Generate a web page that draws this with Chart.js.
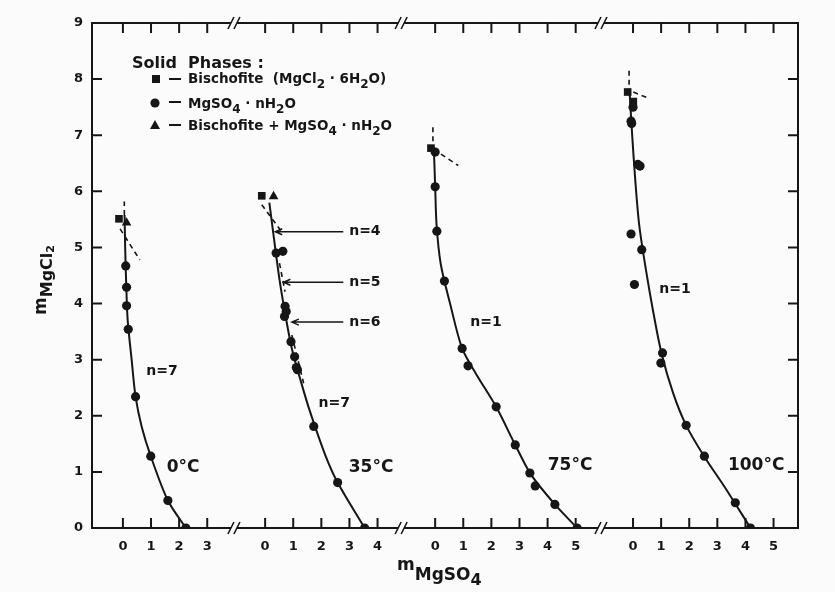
<!DOCTYPE html>
<html lang="en">
<head>
<meta charset="UTF-8">
<title>MgCl2 - MgSO4 - H2O isotherms</title>
<script src="https://cdn.jsdelivr.net/npm/chart.js"></script>
<style>
  html, body { margin: 0; padding: 0; background: #fbfbfb; }
  canvas { display: block; }
</style>
</head>
<body>
<canvas id="chart" width="835" height="592"></canvas>
<script>
// four isotherms share one broken x axis; each panel has its own zero
const temps = ["0°C", "35°C", "75°C", "100°C"];
const panelZero = [1.10, 6.16, 12.21, 19.25];
const axisBreaks = [5.05, 11.0, 18.11];
const panelTicks = [[0, 1, 2, 3], [0, 1, 2, 3, 4], [0, 1, 2, 3, 4, 5], [0, 1, 2, 3, 4, 5]];
const xMax = 25.12;

// 0 °C
const so4_0 = [0.10, 0.13, 0.13, 0.19, 0.45, 0.99, 1.60, 2.24];
const cl2_0 = [4.67, 4.29, 3.96, 3.54, 2.34, 1.28, 0.49, 0.00];
const bischX_0 = [-0.14], bischY_0 = [5.51];
const bothX_0 = [0.13], bothY_0 = [5.44];
const lineX_0 = [0.06, 0.08, 0.12, 0.17, 0.31, 0.45, 0.67, 0.99, 1.60, 2.24];
const lineY_0 = [5.58, 5.00, 4.30, 3.70, 3.00, 2.34, 1.80, 1.28, 0.49, 0.00];
const dash_0 = [[[0.05, 0.05], [5.58, 5.82]], [[-0.10, 0.60], [5.33, 4.78]]];

// 35 °C
const so4_35 = [0.39, 0.63, 0.71, 0.75, 0.69, 0.92, 1.05, 1.11, 1.15, 1.73, 2.58, 3.54];
const cl2_35 = [4.90, 4.93, 3.95, 3.86, 3.77, 3.32, 3.05, 2.86, 2.82, 1.81, 0.81, 0.00];
const bischX_35 = [-0.12], bischY_35 = [5.92];
const bothX_35 = [0.30], bothY_35 = [5.91];
const lineX_35 = [0.15, 0.33, 0.52, 0.72, 0.95, 1.28, 1.58, 2.14, 2.58, 3.54];
const lineY_35 = [5.80, 5.10, 4.40, 3.80, 3.20, 2.60, 2.10, 1.30, 0.81, 0.00];
const dash_35 = [[[-0.12, 0.63], [5.76, 5.25]], [[0.51, 0.71], [4.72, 4.21]], [[0.95, 1.37], [3.44, 2.58]]];

// 75 °C
const so4_75 = [0.00, 0.00, 0.06, 0.33, 0.96, 1.17, 2.17, 2.85, 3.37, 3.56, 4.26, 5.05];
const cl2_75 = [6.70, 6.08, 5.29, 4.40, 3.20, 2.89, 2.16, 1.48, 0.98, 0.75, 0.42, 0.00];
const bischX_75 = [-0.15], bischY_75 = [6.77];
const bothX_75 = [], bothY_75 = [];
const lineX_75 = [-0.05, 0.00, 0.05, 0.20, 0.53, 0.96, 1.45, 2.17, 2.85, 3.40, 4.26, 5.05];
const lineY_75 = [6.80, 6.10, 5.40, 4.70, 4.00, 3.20, 2.75, 2.16, 1.48, 0.96, 0.42, 0.00];
const dash_75 = [[[-0.08, -0.08], [7.14, 6.80]], [[-0.06, 0.82], [6.75, 6.46]]];

// 100 °C
const so4_100 = [0.00, -0.07, -0.05, 0.17, 0.25, -0.07, 0.31, 0.05, 1.05, 0.99, 1.89, 2.54, 3.64, 4.18];
const cl2_100 = [7.50, 7.25, 7.21, 6.48, 6.45, 5.24, 4.96, 4.34, 3.12, 2.94, 1.83, 1.28, 0.45, 0.00];
const bischX_100 = [-0.19, 0.01], bischY_100 = [7.77, 7.60];
const bothX_100 = [], bothY_100 = [];
const lineX_100 = [-0.12, -0.03, 0.08, 0.22, 0.46, 0.72, 1.02, 1.43, 1.89, 2.54, 3.30, 4.18];
const lineY_100 = [7.75, 7.00, 6.20, 5.40, 4.60, 3.85, 3.10, 2.40, 1.83, 1.27, 0.70, 0.00];
const dash_100 = [[[-0.14, -0.14], [8.15, 7.78]], [[0.01, 0.60], [7.77, 7.65]]];

const panels = [
  { so4: so4_0, cl2: cl2_0, bx: bischX_0, by: bischY_0, tx: bothX_0, ty: bothY_0, lx: lineX_0, ly: lineY_0, dash: dash_0 },
  { so4: so4_35, cl2: cl2_35, bx: bischX_35, by: bischY_35, tx: bothX_35, ty: bothY_35, lx: lineX_35, ly: lineY_35, dash: dash_35 },
  { so4: so4_75, cl2: cl2_75, bx: bischX_75, by: bischY_75, tx: bothX_75, ty: bothY_75, lx: lineX_75, ly: lineY_75, dash: dash_75 },
  { so4: so4_100, cl2: cl2_100, bx: bischX_100, by: bischY_100, tx: bothX_100, ty: bothY_100, lx: lineX_100, ly: lineY_100, dash: dash_100 }
];

// text on the plot: [panel, x, y, text, size, align]
const notes = [
  [0, 1.39, 2.80, "n=7", 14, "center"],
  [0, 2.14, 1.07, "0°C", 17, "center"],
  [1, 2.46, 2.23, "n=7", 14, "center"],
  [1, 3.77, 1.07, "35°C", 17, "center"],
  [1, 2.99, 5.28, "n=4", 14, "left"],
  [1, 2.99, 4.38, "n=5", 14, "left"],
  [1, 2.99, 3.67, "n=6", 14, "left"],
  [2, 1.81, 3.67, "n=1", 14, "center"],
  [2, 4.80, 1.12, "75°C", 17, "center"],
  [3, 1.49, 4.26, "n=1", 14, "center"],
  [3, 4.38, 1.12, "100°C", 17, "center"]
];
// arrows from the hydrate labels at 35 °C to the curve
const arrowTail = 2.78;
const arrowTipX = [0.36, 0.65, 0.95];
const arrowTipY = [5.28, 4.38, 3.67];

const ink = "#161616";
const paper = "#fbfbfb";
const face = "DejaVu Sans";

const xTickVals = [], xTickText = [];
panelTicks.forEach((ts, p) => ts.forEach(t => { xTickVals.push(panelZero[p] + t); xTickText.push(String(t)); }));

const pts = (p, xs, ys) => xs.map((x, i) => ({ x: panelZero[p] + x, y: ys[i] }));

const datasets = [];
panels.forEach((s, p) => {
  datasets.push({ label: temps[p], data: pts(p, s.lx, s.ly), showLine: true, tension: 0.3,
    borderColor: ink, borderWidth: 2, pointRadius: 0 });
  s.dash.forEach(d => datasets.push({ label: temps[p] + " metastable", data: pts(p, d[0], d[1]), showLine: true,
    borderColor: ink, borderWidth: 1.6, borderDash: [5, 4], pointRadius: 0 }));
  datasets.push({ label: "MgSO4·nH2O", data: pts(p, s.so4, s.cl2), pointStyle: "circle", pointRadius: 4.6,
    backgroundColor: ink, borderWidth: 0 });
  datasets.push({ label: "Bischofite", data: pts(p, s.bx, s.by), pointStyle: "rect", pointRadius: 5.4,
    backgroundColor: ink, borderWidth: 0 });
  datasets.push({ label: "Bischofite + MgSO4·nH2O", data: pts(p, s.tx, s.ty), pointStyle: "triangle", pointRadius: 5.6,
    backgroundColor: ink, borderWidth: 0 });
});

// writes runs of text with baseline shifts (subscripts)
function rich(ctx, x, y, parts) {
  ctx.textAlign = "left";
  ctx.textBaseline = "alphabetic";
  parts.forEach(([t, dy, size]) => {
    ctx.font = "bold " + size + "px '" + face + "'";
    ctx.fillText(t, x, y + dy);
    x += ctx.measureText(t).width;
  });
}

const decor = {
  id: "decor",
  beforeDraw(chart) {
    const ctx = chart.ctx;
    ctx.save();
    ctx.fillStyle = paper;
    ctx.fillRect(0, 0, chart.width, chart.height);
    ctx.restore();
  },
  beforeDatasetsDraw(chart) {
    const { ctx, chartArea: a, scales: { x, y } } = chart;
    ctx.save();
    ctx.strokeStyle = ink;
    ctx.lineWidth = 2;
    ctx.strokeRect(a.left, a.top, a.right - a.left, a.bottom - a.top);
    ctx.beginPath();
    xTickVals.forEach(v => {
      const px = x.getPixelForValue(v);
      ctx.moveTo(px, a.bottom); ctx.lineTo(px, a.bottom - 10);
      ctx.moveTo(px, a.top); ctx.lineTo(px, a.top + 10);
    });
    for (let v = 1; v < 9; v++) {
      const py = y.getPixelForValue(v);
      ctx.moveTo(a.left, py); ctx.lineTo(a.left + 10, py);
      ctx.moveTo(a.right, py); ctx.lineTo(a.right - 10, py);
    }
    ctx.stroke();
    // axis break marks
    ctx.lineWidth = 1.6;
    axisBreaks.forEach(v => {
      const px = x.getPixelForValue(v);
      [a.top, a.bottom].forEach(py => {
        ctx.fillStyle = paper;
        ctx.fillRect(px - 3, py - 2, 6, 4);
        ctx.beginPath();
        [-3, 3].forEach(dx => { ctx.moveTo(px + dx - 3, py + 6); ctx.lineTo(px + dx + 3, py - 6); });
        ctx.stroke();
      });
    });
    ctx.restore();
  },
  afterDatasetsDraw(chart) {
    const { ctx, chartArea: a, scales: { x, y } } = chart;
    ctx.save();
    ctx.fillStyle = ink;
    ctx.strokeStyle = ink;

    notes.forEach(([p, nx, ny, t, size, align]) => {
      ctx.font = "bold " + size + "px '" + face + "'";
      ctx.textAlign = align;
      ctx.textBaseline = "middle";
      ctx.fillText(t, x.getPixelForValue(panelZero[p] + nx), y.getPixelForValue(ny));
    });

    ctx.lineWidth = 1.4;
    arrowTipX.forEach((tx, i) => {
      const py = y.getPixelForValue(arrowTipY[i]);
      const x0 = x.getPixelForValue(panelZero[1] + arrowTail);
      const x1 = x.getPixelForValue(panelZero[1] + tx);
      ctx.beginPath();
      ctx.moveTo(x0, py); ctx.lineTo(x1, py);
      ctx.moveTo(x1 + 7, py - 3); ctx.lineTo(x1, py); ctx.lineTo(x1 + 7, py + 3);
      ctx.stroke();
    });

    // legend of solid phases
    const lx = a.left + 40, ly = a.top + 45;
    rich(ctx, lx, ly, [["Solid  Phases :", 0, 16]]);
    ctx.fillRect(lx + 20, ly + 7, 8, 8);
    ctx.beginPath(); ctx.arc(lx + 23, ly + 35, 4.6, 0, Math.PI * 2); ctx.fill();
    ctx.beginPath(); ctx.moveTo(lx + 23, ly + 52); ctx.lineTo(lx + 28, ly + 61); ctx.lineTo(lx + 18, ly + 61); ctx.closePath(); ctx.fill();
    ctx.lineWidth = 2;
    ctx.beginPath();
    [11, 34, 57].forEach(dy => { ctx.moveTo(lx + 37, ly + dy); ctx.lineTo(lx + 49, ly + dy); });
    ctx.stroke();
    const tx = lx + 56;
    rich(ctx, tx, ly + 15, [["Bischofite  (MgCl", 0, 13.5], ["2", 5, 12], [" · 6H", 0, 13.5], ["2", 5, 12], ["O)", 0, 13.5]]);
    rich(ctx, tx, ly + 40, [["MgSO", 0, 13.5], ["4", 5, 12], [" · nH", 0, 13.5], ["2", 5, 12], ["O", 0, 13.5]]);
    rich(ctx, tx, ly + 62, [["Bischofite + MgSO", 0, 13.5], ["4", 5, 12], [" · nH", 0, 13.5], ["2", 5, 12], ["O", 0, 13.5]]);

    // axis titles
    rich(ctx, 397, 570, [["m", 0, 17], ["MgSO", 10, 17], ["4", 15, 16]]);
    ctx.translate(46, 315);
    ctx.rotate(-Math.PI / 2);
    rich(ctx, 0, 0, [["m", 0, 17], ["MgCl", 6, 16], ["2", 8, 11]]);
    ctx.restore();
  }
};

new Chart(document.getElementById("chart"), {
  type: "scatter",
  data: { datasets },
  options: {
    responsive: false,
    animation: false,
    layout: { padding: { top: 23, right: 37, left: 0, bottom: 0 } },
    plugins: { legend: { display: false }, tooltip: { enabled: false } },
    scales: {
      x: {
        type: "linear", min: 0, max: xMax,
        grid: { display: false, drawTicks: false },
        border: { display: false },
        afterBuildTicks: s => { s.ticks = xTickVals.map(v => ({ value: v })); },
        afterFit: s => { s.height = 64; },
        ticks: {
          autoSkip: false, maxRotation: 0, padding: 11, color: ink,
          font: { family: face, size: 13, weight: "bold" },
          callback: (v, i) => xTickText[i]
        }
      },
      y: {
        min: 0, max: 9,
        grid: { display: false, drawTicks: false },
        border: { display: false },
        afterFit: s => { s.width = 92; },
        ticks: { stepSize: 1, padding: 9, color: ink, font: { family: face, size: 13, weight: "bold" } }
      }
    }
  },
  plugins: [decor]
});
</script>
</body>
</html>
